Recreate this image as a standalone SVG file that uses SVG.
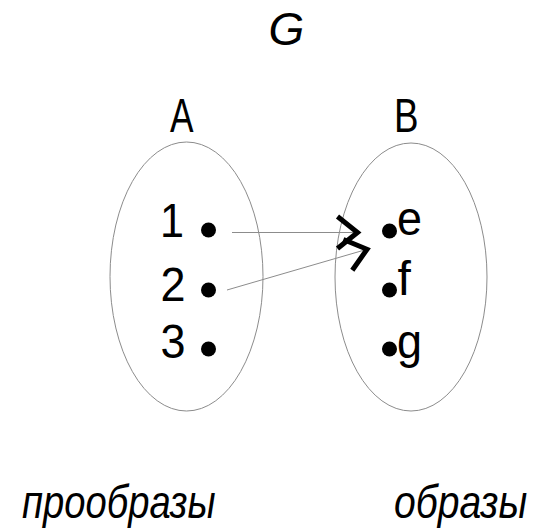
<svg xmlns="http://www.w3.org/2000/svg" width="545" height="532" viewBox="0 0 545 532">
  <style>
    .set { fill: none; stroke: #8c8c8c; stroke-width: 1; }
    .dot { fill: #000; }
    .lbl { font-family: "Liberation Sans", Arial, sans-serif; font-size: 48px; fill: #000; }
    .cap { font-family: "Liberation Sans", Arial, sans-serif; font-size: 48px; fill: #000; }
    .it  { font-family: "Liberation Sans", Arial, sans-serif; font-style: italic; fill: #000; }
    .edge { fill: none; stroke: #8c8c8c; stroke-width: 1; }
  </style>
  <defs>
    <marker id="chevron" markerUnits="userSpaceOnUse" orient="auto" refX="0" refY="0"
            viewBox="-30 -22 36 44" markerWidth="36" markerHeight="44" overflow="visible">
      <path d="M-21,-16 L-1,0 L-21,16" fill="none" stroke="#000" stroke-width="5" stroke-linejoin="miter"/>
    </marker>
  </defs>

  <rect width="545" height="532" fill="#fff"/>

  <!-- relation name -->
  <text id="title" class="it" x="268.5" y="45" font-size="46">G</text>

  <!-- domain set A -->
  <g id="setA">
    <ellipse class="set" cx="186.5" cy="276.5" rx="76.5" ry="134.5"/>
    <text class="cap" x="170" y="131.5" textLength="23.5" lengthAdjust="spacingAndGlyphs">A</text>
  </g>
  <g id="a1">
    <text class="lbl" x="160" y="236.5" textLength="24" lengthAdjust="spacingAndGlyphs">1</text>
    <circle class="dot" cx="208.5" cy="230" r="7.5"/>
  </g>
  <g id="a2">
    <text class="lbl" x="160.5" y="300.5" textLength="25" lengthAdjust="spacingAndGlyphs">2</text>
    <circle class="dot" cx="208.5" cy="290" r="7.5"/>
  </g>
  <g id="a3">
    <text class="lbl" x="160.5" y="358" textLength="25" lengthAdjust="spacingAndGlyphs">3</text>
    <circle class="dot" cx="208.5" cy="349" r="7.5"/>
  </g>

  <!-- codomain set B -->
  <g id="setB">
    <ellipse class="set" cx="411" cy="277" rx="76" ry="134"/>
    <text class="cap" x="394" y="131.5" textLength="24.5" lengthAdjust="spacingAndGlyphs">B</text>
  </g>
  <g id="be">
    <circle class="dot" cx="389.5" cy="231" r="7.5"/>
    <text class="lbl" x="397" y="235" textLength="25" lengthAdjust="spacingAndGlyphs">e</text>
  </g>
  <g id="bf">
    <circle class="dot" cx="389.5" cy="290" r="7.5"/>
    <text class="lbl" x="397.5" y="294.5">f</text>
  </g>
  <g id="bg">
    <circle class="dot" cx="389.5" cy="349" r="7.5"/>
    <text class="lbl" x="397" y="358" textLength="25" lengthAdjust="spacingAndGlyphs">g</text>
  </g>

  <!-- mapping arrows -->
  <g id="connectors">
    <line class="edge" x1="232" y1="232.5" x2="358.5" y2="232.5" marker-end="url(#chevron)"/>
    <line class="edge" x1="227" y1="290" x2="368" y2="249" marker-end="url(#chevron)"/>
  </g>

  <!-- captions, set in a horizontally condensed italic -->
  <text id="capA" class="it" font-size="46" transform="translate(22 518) scale(0.83 1)">прообразы</text>
  <text id="capB" class="it" font-size="46" transform="translate(394 518) scale(0.85 1)">образы</text>
</svg>
